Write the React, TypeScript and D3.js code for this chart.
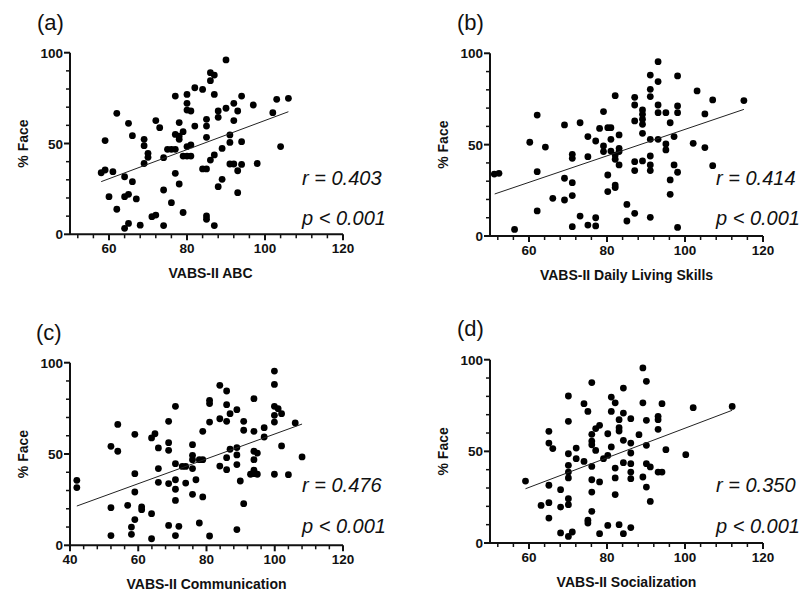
import React from "react";
import * as d3 from "d3";

type Pt = [number, number];

const panelLetters = ["(a)", "(b)", "(c)", "(d)"];
const xTitles = ["VABS-II ABC", "VABS-II Daily Living Skills", "VABS-II Communication", "VABS-II Socialization"];
const rTexts = ["r = 0.403", "r = 0.414", "r = 0.476", "r = 0.350"];
const pTexts = ["p < 0.001", "p < 0.001", "p < 0.001", "p < 0.001"];
const xDomains: [number, number][] = [[50, 120], [50, 120], [40, 120], [50, 120]];
const yDomain: [number, number] = [0, 100];
const xMajorTicks = [[60, 80, 100, 120], [60, 80, 100, 120], [40, 60, 80, 100, 120], [60, 80, 100, 120]];
const yMajorTicks = [0, 50, 100];
const yTickLabel = "% Face";

const abcPoints: Pt[] = [
  [58,33.9],[59,35.4],[59,51.6],[61,34.5],[60,20.7],[62,66.6],[62,13.8],[64,31.7],[64,20.7],[65,22],
  [65,61.1],[64,3.3],[65,6],[66,54.3],[66,29],[67,19.5],[68,5],[69,52.3],[69,48.8],[69,39],
  [70,44.6],[70,42.4],[71,9.7],[72,10.6],[72,62.6],[73,58.7],[74,42.2],[74,24.4],[74,4.8],[75,46.8],
  [76,17.4],[76,46.8],[77,76.1],[77,33.6],[77,55],[78,54.1],[78,52.3],[78,61.5],[78,27.7],[77,46.8],
  [79,56.5],[79,12],[79,43.1],[80,77],[80,72.1],[80,68.4],[80,48.3],[81,67.9],[81,49.2],[81,43.1],
  [80,43.1],[82,80.7],[82,59.6],[84,79.8],[84,36],[85,36],[85,63.3],[85,59.6],[85,53.4],[85,10.1],
  [85,8.3],[86,89],[86,84.6],[86,40.9],[87,87.7],[87,77],[87,43.7],[87,4.8],[88,67.9],[88,64.4],
  [88,26.2],[89,47.3],[89,30.3],[90,96],[90,69.4],[91,54.7],[91,50.6],[91,38.7],[92,38.7],[92,72.1],
  [92,62.6],[93,67.9],[93,35],[93,22.9],[94,76.1],[94,51],[94,38.5],[97,71.2],[98,39],[102,67],
  [103,74.3],[104,48.3],[106,74.9],
];

const dlsPoints: Pt[] = [
  [51.1,33.9],[52.3,34.3],[56.3,3.6],[60.2,51.3],[62.1,66.2],[62.1,35.2],[62.1,13.7],[64.2,48.7],[66.1,20.6],[69.1,60.8],
  [69.1,31.6],[69.1,19.7],[71.1,44.7],[71.1,42.5],[71.1,29.2],[71.1,22.1],[71.1,5.1],[73.1,62],[73.1,10.9],[75.1,54.4],
  [75.1,43.4],[75.1,6],[77.1,52],[77.1,10],[77.1,5.5],[78.1,58.9],[79.1,68.1],[79.1,49.3],[79.1,46.2],[80.2,59.3],
  [80.2,33.4],[80.2,24.3],[81,59.3],[81,52.9],[81,46.5],[82.1,76.8],[82.1,44.3],[82.1,42],[82.1,27.9],[82.1,26.5],
  [83.1,55.3],[83.1,48],[83.1,46.2],[83.1,38.9],[85.1,17.3],[85.1,8.2],[87.1,75.9],[87.1,71.7],[87.1,63],[87.1,40.7],
  [87.1,35.8],[87.1,12.4],[89.1,69],[89.1,66.6],[89.1,63.9],[89.1,61.1],[89.1,56.2],[89.1,41.1],[91.1,88.1],[91.1,80.3],
  [91.1,76.3],[91.1,52.9],[91.1,43.8],[91.1,38.9],[91.1,35.8],[91.1,10.2],[93.1,95.4],[93.1,84.5],[93.1,71.7],[93.1,67.5],
  [93.1,52.9],[95.1,67.5],[95.1,50.4],[95.1,47.1],[96.2,62],[96.2,30.7],[96.2,22.8],[97.2,54.4],[97.2,38.9],[98.1,87.6],
  [98.1,71.2],[98.1,67.5],[98.1,34.9],[98.1,4.7],[102.1,50.7],[103.1,79.4],[105.1,66.8],[105.1,48.4],[107.1,74.5],[107.1,38.5],
  [115.1,74.1],
];

const commPoints: Pt[] = [
  [42,35.6],[42,31.6],[52,54.2],[52,20.6],[52,5.3],[54,66.2],[54,51.5],[56.9,21.9],[58,10],[58,6],
  [59,60.8],[59,39.2],[59,29.2],[59,14.1],[61,21],[61,19.5],[63.9,58.8],[64.9,61.1],[63.9,17.3],[63.9,3.6],
  [65.9,53.3],[65.9,42],[65.9,34.5],[68.9,67.9],[68.9,56.2],[68.9,52],[68.9,33.8],[68.9,10.9],[70.9,76.1],[70.9,44.7],
  [70.9,35.9],[70.9,30.7],[70.9,24.6],[70.9,5.3],[71.9,10.4],[72.9,43.2],[73.9,43.2],[73.9,34.1],[75.9,55.1],[75.9,49.3],
  [75.9,46.9],[75.9,42],[75.9,27.9],[76.9,35.9],[77.9,46.9],[77.9,12.2],[78.9,46.9],[78.9,62.4],[78.9,26.5],[80.9,79.4],
  [80.9,77.6],[80.9,67.5],[80.9,5.1],[83.9,87.6],[83.9,69.3],[83.9,43.4],[85.9,84.5],[85.9,77],[85.9,67.9],[85.9,48],
  [85.9,41.4],[86.9,72.1],[86.9,52.6],[88.9,74.3],[88.9,53.5],[88.9,49.5],[88.9,44.2],[88.9,8.6],[89.9,35.2],[90.9,67.9],
  [90.9,63],[90.9,22.8],[92.9,38.9],[93.9,39.2],[93.9,80.3],[93.9,62.4],[93.9,51.5],[93.9,46.9],[93.9,41.1],[94.9,50.5],
  [94.9,38.9],[96.9,64.4],[96.9,59.3],[99.9,95.4],[99.9,88.1],[99.9,76.1],[99.9,71.2],[99.9,67.5],[99.9,38.9],[101,74.8],
  [102,72.1],[102,54.4],[104,38.7],[106,67],[108,48.4],
];

const socPoints: Pt[] = [
  [59.1,33.8],[63.1,20.5],[65.1,60.9],[65.1,54.5],[65.1,31.5],[65.1,22],[65.1,13.6],[66.1,51.5],[68.1,29.1],[68.1,19.6],
  [68.1,5.5],[70.1,80.2],[70.1,66.4],[70.1,48.7],[70.1,42.4],[70.1,38.7],[70.1,35.5],[70.1,24.2],[70.1,20.9],[70.1,3.6],
  [71.1,6],[72.1,51.8],[72.1,46],[74.1,44.5],[74.1,76],[75.1,71.8],[75.1,12.4],[75.1,10.9],[76.1,87.5],[76.1,59.3],
  [76.1,55.6],[76.1,53.6],[76.1,41.8],[76.1,34.5],[76.1,27.8],[76.1,17.3],[77.1,62.4],[77.1,50.5],[78.1,64.2],[78.1,33.3],
  [78.1,5.1],[79.1,46],[80.2,59.6],[80.2,47.8],[80.2,9.6],[81.1,79.6],[81.1,71.8],[81.1,52.4],[82.1,76.5],[82.1,40.9],
  [82.1,35.5],[82.1,26.4],[83.1,67.3],[83.1,62.9],[83.1,61.1],[83.1,10],[84.2,84.5],[84.2,70.9],[84.2,56],[84.2,43.8],
  [84.2,5.1],[86.1,67.8],[86.1,54.5],[86.1,49.1],[86.1,43.3],[86.1,38.7],[86.1,35.1],[86.1,8.4],[88.2,59.1],[89.2,95.5],
  [89.2,76.5],[89.2,36],[90.1,88.2],[90.1,66.9],[90.1,53.3],[90.1,43.3],[90.1,30.5],[91.1,41.5],[91.1,22.7],[93.1,69.1],
  [93.1,67.3],[93.1,62],[93.1,38.7],[94.1,76],[94.1,38.7],[95.1,50.9],[100.2,48.2],[102.1,73.8],[112.1,74.5],
];

const fitLines: Pt[][] = [
  [[58, 29], [106, 67.5]],
  [[51.2, 23], [115.1, 69.3]],
  [[42, 21.5], [108, 66.4]],
  [[59.1, 29.6], [112.1, 72.4]],
];

const allPoints = [abcPoints, dlsPoints, commPoints, socPoints];

// layout (pixels)
const layouts = [
  { left: 70, right: 343, top: 52.7, bottom: 234.3, labelX: 37, labelY: 30, statX: 302, rY: 185, pY: 225 },
  { left: 490, right: 763, top: 53.3, bottom: 236, labelX: 457, labelY: 30, statX: 716, rY: 185, pY: 225 },
  { left: 70, right: 343, top: 362.7, bottom: 545.3, labelX: 36, labelY: 340, statX: 302, rY: 492, pY: 533 },
  { left: 490, right: 763, top: 359.7, bottom: 543, labelX: 457, labelY: 336, statX: 716, rY: 492, pY: 533 },
];

const FONT = "'Liberation Sans', Arial, Helvetica, sans-serif";
const INK = "#111";

function Panel({ i }: { i: number }) {
  const L = layouts[i];
  const [d0, d1] = xDomains[i];
  const x = d3.scaleLinear().domain(xDomains[i]).range([L.left, L.right]);
  const y = d3.scaleLinear().domain(yDomain).range([L.bottom, L.top]);
  const minorX = d3.range(d0 + 2, d1 + 0.001, 4).map((v) => Math.round(v)).filter((v) => v > d0 && v % 20 !== 0 && (v - d0) % 4 === (d0 === 40 ? 0 : 2));
  const xMinor = d3.range(d0, d1 + 0.001, 4).concat(d3.range(d0 + 2, d1 + 0.001, 4));
  const minorTicks = (d0 === 40 ? d3.range(44, d1, 4) : d3.range(52, d1, 4)).filter((v) => !xMajorTicks[i].includes(v));
  void minorX; void xMinor;
  const yMinor = d3.range(10, 100, 10).filter((v) => !yMajorTicks.includes(v));
  const line = d3.line<Pt>().x((d) => x(d[0])).y((d) => y(d[1]));
  const pts = allPoints[i];
  return (
    <g>
      <text x={L.labelX} y={L.labelY} fontFamily={FONT} fontSize={22} fill={INK}>{panelLetters[i]}</text>
      {/* points */}
      {pts.map((d, k) => (
        <circle key={k} cx={x(d[0])} cy={y(d[1])} r={3.4} fill="#000" />
      ))}
      {/* fit */}
      <path d={line(fitLines[i]) || ""} stroke="#222" strokeWidth={1} fill="none" />
      {/* axes */}
      <line x1={L.left} x2={L.right} y1={L.bottom} y2={L.bottom} stroke={INK} strokeWidth={2} />
      <line x1={L.left} x2={L.left} y1={L.top} y2={L.bottom} stroke={INK} strokeWidth={2} />
      {xMajorTicks[i].map((v) => (
        <g key={"xm" + v}>
          <line x1={x(v)} x2={x(v)} y1={L.bottom} y2={L.bottom + 6} stroke={INK} strokeWidth={2} />
          <text x={x(v)} y={L.bottom + 19} textAnchor="middle" fontFamily={FONT} fontWeight="bold" fontSize={13.5} fill={INK}>{v}</text>
        </g>
      ))}
      {minorTicks.map((v) => (
        <line key={"xn" + v} x1={x(v)} x2={x(v)} y1={L.bottom} y2={L.bottom + 4} stroke={INK} strokeWidth={1.5} />
      ))}
      {yMajorTicks.map((v) => (
        <g key={"ym" + v}>
          <line x1={L.left - 6} x2={L.left} y1={y(v)} y2={y(v)} stroke={INK} strokeWidth={2} />
          <text x={L.left - 7} y={y(v) + 5} textAnchor="end" fontFamily={FONT} fontWeight="bold" fontSize={13.5} fill={INK}>{v}</text>
        </g>
      ))}
      {yMinor.map((v) => (
        <line key={"yn" + v} x1={L.left - 4} x2={L.left} y1={y(v)} y2={y(v)} stroke={INK} strokeWidth={1.5} />
      ))}
      <text
        transform={`translate(${L.left - 42},${(L.top + L.bottom) / 2}) rotate(-90)`}
        textAnchor="middle"
        fontFamily={FONT}
        fontWeight="bold"
        fontSize={14}
        fill={INK}
      >
        {yTickLabel}
      </text>
      <text x={(L.left + L.right) / 2 + (i === 0 ? 4 : 0)} y={L.bottom + 44} textAnchor="middle" fontFamily={FONT} fontWeight="bold" fontSize={14} fill={INK}>
        {xTitles[i]}
      </text>
      <text x={L.statX} y={L.rY} fontFamily={FONT} fontStyle="italic" fontSize={20} fill={INK}>{rTexts[i]}</text>
      <text x={L.statX} y={L.pY} fontFamily={FONT} fontStyle="italic" fontSize={20} fill={INK}>{pTexts[i]}</text>
    </g>
  );
}

export default function App() {
  return (
    <svg width={803} height={594} style={{ position: "absolute", left: 0, top: 0, background: "#fff" }}>
      <rect width={803} height={594} fill="#fff" />
      {[0, 1, 2, 3].map((i) => (
        <Panel key={i} i={i} />
      ))}
    </svg>
  );
}
